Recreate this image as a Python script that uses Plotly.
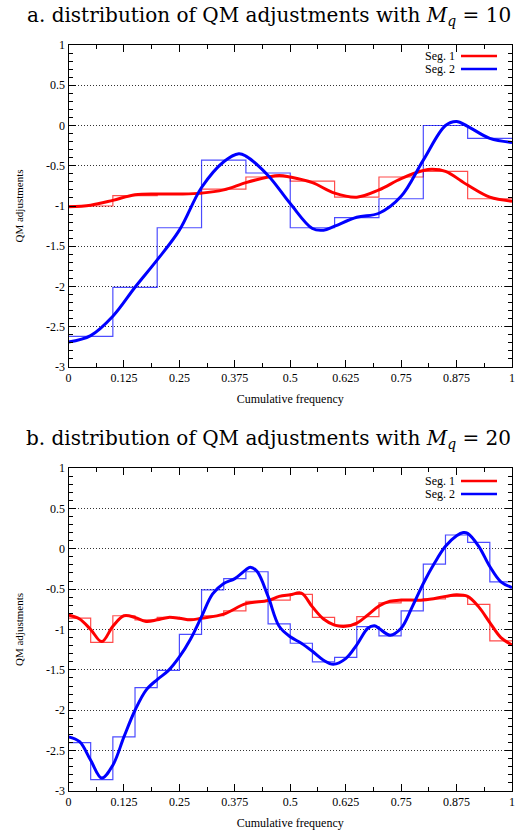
import plotly.graph_objects as go

# ---------------- data ----------------
step_x_a = [0.0, 0.1, 0.2, 0.3, 0.4, 0.5, 0.6, 0.7, 0.8, 0.9, 1.0]
seg1_steps_a = [-1.00, -0.87, -0.85, -0.79, -0.64, -0.69, -0.89, -0.64, -0.57, -0.91]
seg2_steps_a = [-2.62, -2.01, -1.27, -0.43, -0.59, -1.27, -1.145, -0.91, 0.00, -0.16]

seg1_curve_a_x = [0, 0.05, 0.1, 0.15, 0.2, 0.25, 0.3, 0.35, 0.4, 0.45, 0.475, 0.5, 0.55, 0.6,
                  0.65, 0.7, 0.75, 0.8, 0.82, 0.85, 0.9, 0.95, 1.0]
seg1_curve_a_y = [-1.01, -0.99, -0.93, -0.86, -0.85, -0.85, -0.84, -0.80, -0.71, -0.64, -0.62,
                  -0.64, -0.71, -0.84, -0.89, -0.80, -0.66, -0.56, -0.545, -0.57, -0.74, -0.89, -0.94]
seg2_curve_a_x = [0, 0.05, 0.1, 0.15, 0.2, 0.25, 0.3, 0.35, 0.384, 0.4, 0.45, 0.5, 0.55, 0.575,
                  0.6, 0.65, 0.7, 0.75, 0.8, 0.85, 0.875, 0.9, 0.95, 1.0]
seg2_curve_a_y = [-2.69, -2.61, -2.37, -2.01, -1.67, -1.30, -0.77, -0.45, -0.35, -0.38, -0.62,
                  -0.97, -1.28, -1.30, -1.25, -1.14, -1.09, -0.88, -0.43, 0.00, 0.05, -0.01, -0.16, -0.21]

step_x_b = [0.0, 0.05, 0.1, 0.15, 0.2, 0.25, 0.3, 0.35, 0.4, 0.45, 0.5, 0.55, 0.6, 0.65,
            0.7, 0.75, 0.8, 0.85, 0.9, 0.95, 1.0]
seg1_steps_b = [-0.86, -1.16, -0.83, -0.88, -0.85, -0.87, -0.83, -0.77, -0.65, -0.635,
                -0.565, -0.85, -0.945, -0.84, -0.67, -0.63, -0.62, -0.59, -0.69, -1.14]
seg2_steps_b = [-2.40, -2.86, -2.33, -1.72, -1.505, -1.06, -0.51, -0.37, -0.285, -0.93,
                -1.17, -1.40, -1.345, -0.965, -1.08, -0.77, -0.19, 0.17, 0.08, -0.41]

seg1_curve_b_x = [0, 0.025, 0.05, 0.075, 0.1, 0.125, 0.15, 0.175, 0.2, 0.225, 0.25, 0.275, 0.3,
                  0.35, 0.4, 0.45, 0.475, 0.5, 0.525, 0.55, 0.575, 0.6, 0.625, 0.65, 0.675, 0.7,
                  0.725, 0.75, 0.8, 0.85, 0.875, 0.9, 0.925, 0.95, 0.975, 1.0]
seg1_curve_b_y = [-0.82, -0.87, -1.00, -1.15, -0.96, -0.83, -0.85, -0.90, -0.88, -0.85, -0.86,
                  -0.88, -0.86, -0.81, -0.68, -0.64, -0.59, -0.57, -0.55, -0.72, -0.87, -0.945,
                  -0.96, -0.92, -0.82, -0.71, -0.65, -0.635, -0.635, -0.59, -0.57, -0.59, -0.72,
                  -0.915, -1.10, -1.19]
seg2_curve_b_x = [0, 0.025, 0.05, 0.075, 0.1, 0.125, 0.15, 0.175, 0.2, 0.225, 0.25, 0.275, 0.3,
                  0.325, 0.35, 0.375, 0.4, 0.41, 0.425, 0.45, 0.475, 0.5, 0.525, 0.55, 0.575,
                  0.597, 0.625, 0.65, 0.675, 0.69, 0.7, 0.725, 0.75, 0.775, 0.8, 0.825, 0.85,
                  0.875, 0.89, 0.9, 0.925, 0.95, 0.975, 1.0]
seg2_curve_b_y = [-2.33, -2.39, -2.62, -2.84, -2.68, -2.33, -2.00, -1.75, -1.62, -1.51, -1.34,
                  -1.12, -0.84, -0.56, -0.43, -0.37, -0.26, -0.23, -0.28, -0.59, -0.96, -1.09,
                  -1.17, -1.27, -1.38, -1.43, -1.36, -1.19, -0.985, -0.955, -0.985, -1.07, -0.985,
                  -0.72, -0.43, -0.18, 0.03, 0.16, 0.20, 0.19, 0.03, -0.22, -0.41, -0.48]

x_tick_vals = [0, 0.125, 0.25, 0.375, 0.5, 0.625, 0.75, 0.875, 1]
x_tick_text = ["0", "0.125", "0.25", "0.375", "0.5", "0.625", "0.75", "0.875", "1"]
y_tick_vals = [1, 0.5, 0, -0.5, -1, -1.5, -2, -2.5, -3]
y_tick_text = ["1", "0.5", "0", "-0.5", "-1", "-1.5", "-2", "-2.5", "-3"]

titles = ["a. distribution of QM adjustments with <i>M</i><sub><i>q</i></sub> = 10",
          "b. distribution of QM adjustments with <i>M</i><sub><i>q</i></sub> = 20"]
legend_names = ["Seg. 1", "Seg. 2"]

RED = "#ff0000"
BLUE = "#0000ff"
FONT = "Liberation Serif"
TITLE_FONT = "DejaVu Serif"

W, H = 516, 831


def px_x(p):
    return p / W


def px_y(p):
    return 1 - p / H


fig = go.Figure()

panels = [
    dict(xa="x", ya="y", sx=step_x_a, s1=seg1_steps_a, s2=seg2_steps_a,
         c1=(seg1_curve_a_x, seg1_curve_a_y), c2=(seg2_curve_a_x, seg2_curve_a_y)),
    dict(xa="x2", ya="y2", sx=step_x_b, s1=seg1_steps_b, s2=seg2_steps_b,
         c1=(seg1_curve_b_x, seg1_curve_b_y), c2=(seg2_curve_b_x, seg2_curve_b_y)),
]

for p in panels:
    fig.add_trace(go.Scatter(x=p["sx"], y=p["s1"] + [p["s1"][-1]], mode="lines",
                             line=dict(color=RED, width=1.2, shape="hv"), opacity=0.7,
                             xaxis=p["xa"], yaxis=p["ya"], showlegend=False, hoverinfo="skip"))
    fig.add_trace(go.Scatter(x=p["sx"], y=p["s2"] + [p["s2"][-1]], mode="lines",
                             line=dict(color=BLUE, width=1.2, shape="hv"), opacity=0.7,
                             xaxis=p["xa"], yaxis=p["ya"], showlegend=False, hoverinfo="skip"))
    fig.add_trace(go.Scatter(x=p["c1"][0], y=p["c1"][1], mode="lines", name=legend_names[0],
                             line=dict(color=RED, width=3, shape="spline", smoothing=1.0),
                             xaxis=p["xa"], yaxis=p["ya"], showlegend=False))
    fig.add_trace(go.Scatter(x=p["c2"][0], y=p["c2"][1], mode="lines", name=legend_names[1],
                             line=dict(color=BLUE, width=3, shape="spline", smoothing=1.0),
                             xaxis=p["xa"], yaxis=p["ya"], showlegend=False))

x_dom = [px_x(68.5), px_x(512)]
common_x = dict(range=[0, 1], tickvals=x_tick_vals, ticktext=x_tick_text, automargin=False,
                ticks="inside", ticklen=7, tickcolor="black", showline=True, linecolor="black",
                linewidth=1, mirror="allticks", showgrid=False, zeroline=False,
                minor=dict(dtick=0.0625, tick0=0, ticks="inside", ticklen=4, tickcolor="black",
                           showgrid=False),
                tickfont=dict(family=FONT, size=12, color="black"),
                title=dict(text="Cumulative frequency", font=dict(family=FONT, size=12, color="black"),
                           standoff=10))
common_y = dict(range=[-3, 1], tickvals=y_tick_vals, ticktext=y_tick_text, automargin=False,
                ticks="inside", ticklen=7, tickcolor="black", showline=True, linecolor="black",
                linewidth=1, mirror="allticks", showgrid=True, gridcolor="#333333",
                griddash="1px,2px", gridwidth=1, zeroline=False,
                minor=dict(dtick=0.1, tick0=0, ticks="inside", ticklen=4, tickcolor="black",
                           showgrid=False),
                tickfont=dict(family=FONT, size=12, color="black"),
                title=dict(text="QM adjustments", font=dict(family=FONT, size=11, color="black"),
                           standoff=20))

fig.update_layout(
    width=W, height=H,
    margin=dict(l=0, r=0, t=0, b=0),
    paper_bgcolor="white", plot_bgcolor="white",
    showlegend=False,
    hovermode=False,
    xaxis=dict(domain=x_dom, anchor="y", **common_x),
    yaxis=dict(domain=[px_y(367), px_y(45)], anchor="x", **common_y),
    xaxis2=dict(domain=x_dom, anchor="y2", **common_x),
    yaxis2=dict(domain=[px_y(791), px_y(468)], anchor="x2", **common_y),
)

annotations = []
shapes = []
title_y = [16, 439]
legend_rows = [[56, 69], [481, 494]]
for i in range(2):
    annotations.append(dict(text=titles[i], x=px_x(268.5), y=px_y(title_y[i]), xref="paper",
                            yref="paper", xanchor="center", yanchor="middle", showarrow=False,
                            font=dict(family=TITLE_FONT, size=20, color="black")))
    for j, col in enumerate([RED, BLUE]):
        yy = px_y(legend_rows[i][j])
        annotations.append(dict(text=legend_names[j], x=px_x(457), y=yy, xref="paper",
                                yref="paper", xanchor="right", yanchor="middle", showarrow=False,
                                font=dict(family=FONT, size=12, color="black")))
        shapes.append(dict(type="line", xref="paper", yref="paper", x0=px_x(461), x1=px_x(497),
                           y0=yy, y1=yy, line=dict(color=col, width=2.5)))

fig.update_layout(annotations=annotations, shapes=shapes)

fig.write_html("out.html",
               config={"displayModeBar": False, "staticPlot": True},
               post_script="document.documentElement.style.margin='0';"
                           "document.body.style.margin='0';"
                           "document.body.style.padding='0';"
                           "document.body.style.overflow='hidden';")
